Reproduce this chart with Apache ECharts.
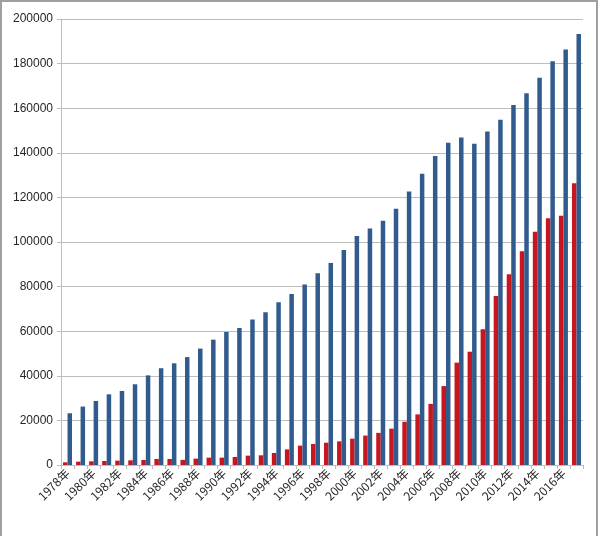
<!DOCTYPE html>
<html>
<head>
<meta charset="utf-8">
<script src="https://cdn.jsdelivr.net/npm/echarts@6/dist/echarts.min.js"></script>
<style>
html,body{margin:0;padding:0;background:#fff;}
#chart{width:600px;height:536px;}
</style>
</head>
<body>
<div id="chart"></div>
<script>
var years = ['1978年','1979年','1980年','1981年','1982年','1983年','1984年','1985年','1986年','1987年',
             '1988年','1989年','1990年','1991年','1992年','1993年','1994年','1995年','1996年','1997年',
             '1998年','1999年','2000年','2001年','2002年','2003年','2004年','2005年','2006年','2007年',
             '2008年','2009年','2010年','2011年','2012年','2013年','2014年','2015年','2016年','2017年'];
var redSeries = [1200,1500,1650,1800,1950,2100,2250,2700,2700,2300,
                 2850,3300,3300,3600,4200,4350,5400,7000,8700,9400,
                 10000,10600,11800,13200,14400,16300,19400,22700,27400,35400,
                 45900,50800,60900,75800,85500,95800,104600,110600,111800,126300];
var blueSeries = [23200,26200,28700,31700,33200,36200,40200,43400,45600,48400,
                  52200,56200,59600,61400,65200,68500,73000,76700,80900,86000,
                  90600,96400,102700,106000,109500,114900,122600,130600,138600,144500,
                  146900,144100,149500,154800,161400,166700,173700,181000,186300,193300];
var yTicks = {min: 0, max: 200000, interval: 20000};

var chart = echarts.init(document.getElementById('chart'), null, {renderer: 'canvas'});
chart.setOption({
  backgroundColor: '#ffffff',
  animation: false,
  graphic: [{
    type: 'rect',
    shape: {x: 1, y: 1, width: 596, height: 545},
    style: {fill: 'none', stroke: '#a0a0a0', lineWidth: 2},
    silent: true
  }],
  grid: {left: 61, right: 17, top: 19, bottom: 71, containLabel: false},
  xAxis: {
    type: 'category',
    data: years,
    boundaryGap: true,
    axisLine: {lineStyle: {color: '#bdbdbd', width: 1}},
    axisTick: {show: true, interval: 0, length: 4, lineStyle: {color: '#bdbdbd'}},
    axisLabel: {
      interval: 1,
      rotate: 45,
      color: '#262626',
      fontSize: 12,
      fontFamily: '"Noto Sans CJK SC", "Liberation Sans", sans-serif',
      margin: 6
    },
    splitLine: {show: false}
  },
  yAxis: {
    type: 'value',
    min: yTicks.min,
    max: yTicks.max,
    interval: yTicks.interval,
    axisLine: {show: true, lineStyle: {color: '#bdbdbd', width: 1}},
    axisTick: {show: true, length: 4, lineStyle: {color: '#bdbdbd'}},
    axisLabel: {
      color: '#262626',
      fontSize: 12,
      fontFamily: '"Liberation Sans", "Noto Sans", sans-serif',
      margin: 8,
      formatter: function (v) { return String(v); }
    },
    splitLine: {show: true, lineStyle: {color: '#bdbdbd', width: 1}}
  },
  series: [
    {
      name: 'red',
      type: 'bar',
      data: redSeries,
      barWidth: 4.5,
      barGap: '0%',
      itemStyle: {color: '#c8161f'}
    },
    {
      name: 'blue',
      type: 'bar',
      data: blueSeries,
      barWidth: 4.5,
      itemStyle: {color: '#315b8d'}
    }
  ]
});
</script>
</body>
</html>
